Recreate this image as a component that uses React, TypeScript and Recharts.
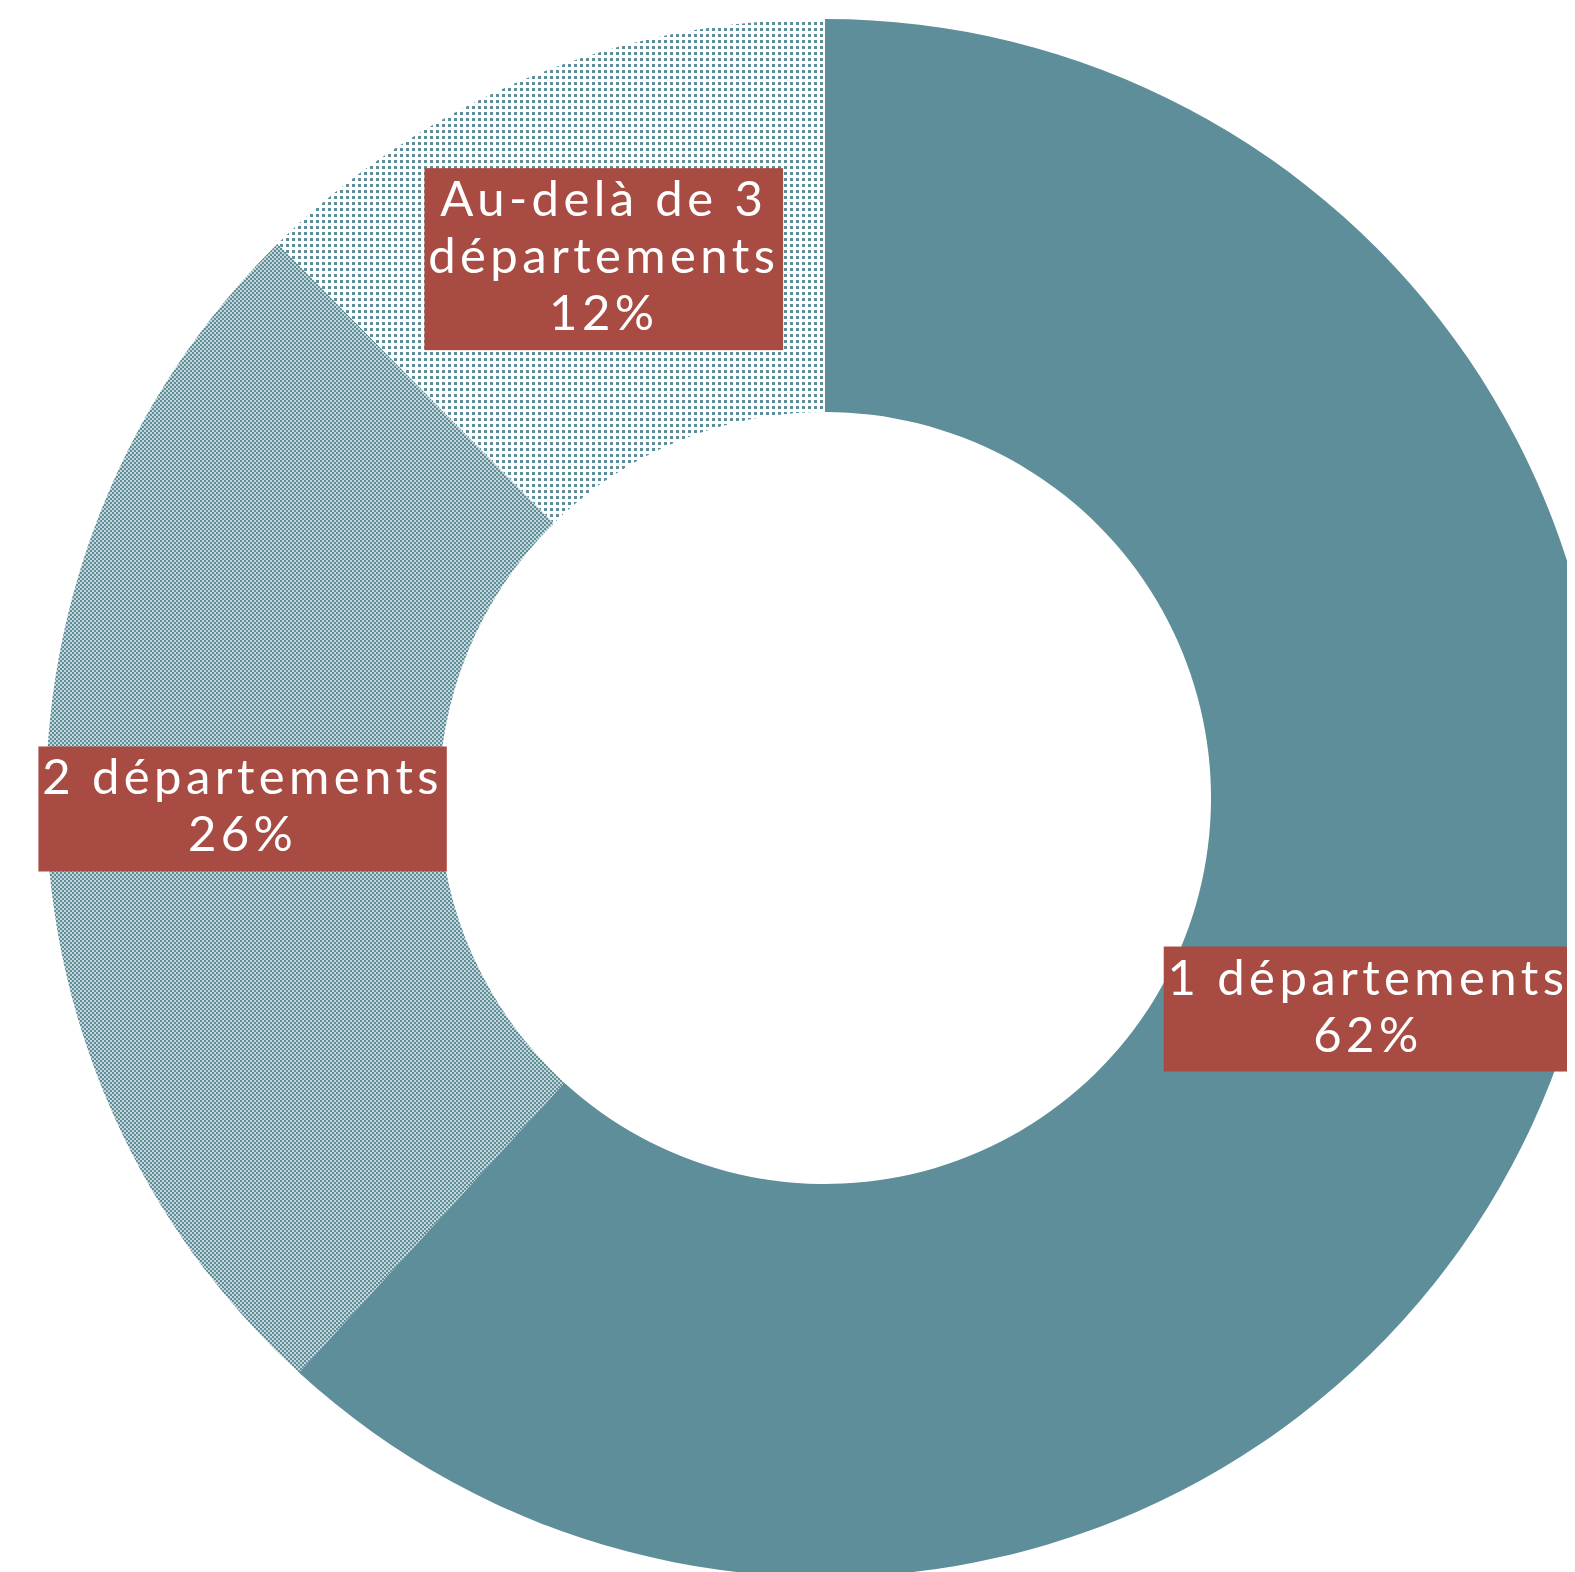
import { PieChart, Pie, Cell } from 'recharts'

const categories = ['1 départements', '2 départements', 'Au-delà de 3\ndépartements']
const shares = [61.8, 25.8, 12.4]
const fills = ['#5e8e99', 'url(#checker)', 'url(#dots)']

const TEAL = '#5e8e99'
const RED = '#a84c43'
const FONT = 'Lato'
const FONT_SIZE = 49
const LINE_H = 57
const SPACING = 4.4

const RADIAN = Math.PI / 180

let ctx: CanvasRenderingContext2D | null = null
function measure(text: string) {
  if (!ctx) ctx = document.createElement('canvas').getContext('2d')
  if (!ctx) return text.length * 28
  ctx.font = `${FONT_SIZE}px ${FONT}`
  return ctx.measureText(text).width + SPACING * (text.length - 1)
}

const renderLabel = (props: any) => {
  const { cx, cy, midAngle, innerRadius, outerRadius, percent, index } = props
  const r = (innerRadius + outerRadius) / 2
  const x = cx + r * Math.cos(-midAngle * RADIAN)
  const y = cy + r * Math.sin(-midAngle * RADIAN)
  const lines = [...categories[index].split('\n'), `${Math.round(percent * 100)}%`]
  const w = Math.max(...lines.map(measure)) + 12
  const h = lines.length * LINE_H + 11
  const top = y - h / 2
  return (
    <g key={`lbl-${index}`}>
      <rect x={x - w / 2} y={top} width={w} height={h} fill={RED} />
      {lines.map((l, i) => (
        <text
          key={i}
          x={x}
          y={top + 48 + i * LINE_H}
          textAnchor="middle"
          fill="#ffffff"
          fontFamily={FONT}
          fontSize={FONT_SIZE}
          letterSpacing={SPACING}
        >
          {l}
        </text>
      ))}
    </g>
  )
}

export default function App() {
  const data = categories.map((name, i) => ({ name, value: shares[i] }))
  return (
    <div style={{ position: 'relative', width: 1567, height: 1564 }}>
      <svg width={0} height={0} style={{ position: 'absolute' }}>
        <defs>
          <pattern id="checker" width={4} height={4} patternUnits="userSpaceOnUse">
            <rect width={4} height={4} fill={TEAL} />
            <rect x={2.2} y={0.2} width={1.6} height={1.6} fill="#ffffff" />
            <rect x={0.2} y={2.2} width={1.6} height={1.6} fill="#ffffff" />
          </pattern>
          <pattern id="dots" width={6} height={6} patternUnits="userSpaceOnUse">
            <rect width={6} height={6} fill="#ffffff" />
            <rect x={2} y={2} width={3} height={3} fill={TEAL} />
          </pattern>
        </defs>
      </svg>
      <PieChart width={1567} height={1564}>
        <Pie
          data={data}
          dataKey="value"
          nameKey="name"
          cx={812}
          cy={785}
          innerRadius={386}
          outerRadius={779}
          startAngle={90}
          endAngle={-270}
          stroke="none"
          labelLine={false}
          label={renderLabel}
          isAnimationActive={false}
        >
          {data.map((_, i) => (
            <Cell key={i} fill={fills[i]} />
          ))}
        </Pie>
      </PieChart>
    </div>
  )
}
